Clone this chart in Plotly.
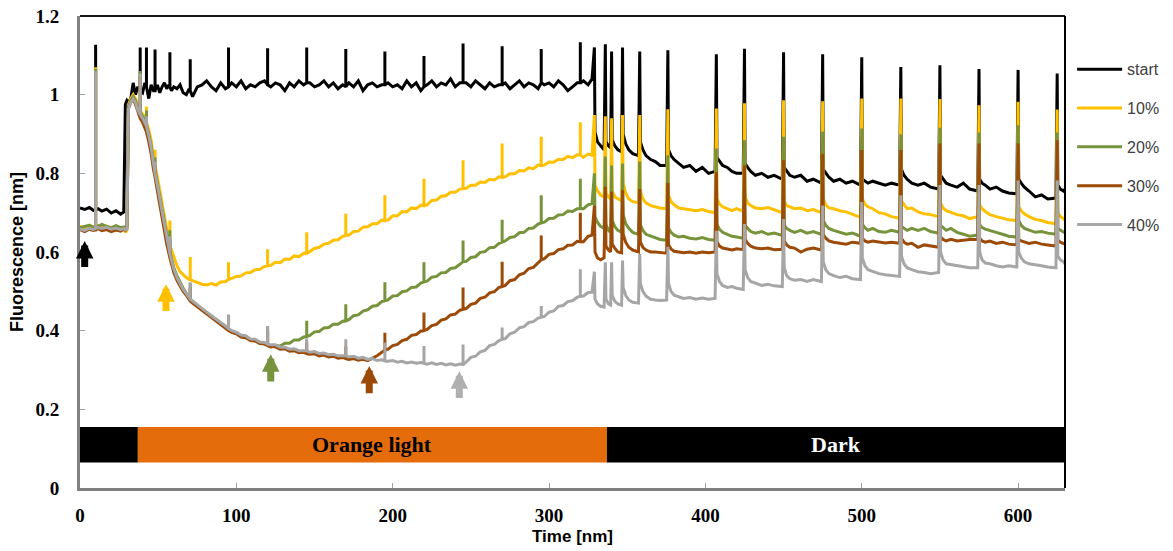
import plotly.graph_objects as go

# ---------------- data ----------------
LIGHT_T = [0, 3, 6, 8.5, 11.5, 14, 17, 20, 23, 26,
           28, 29, 30, 31,
           32.5, 34, 35.5, 37,
           40, 41.5,
           44, 45.5, 47,
           49.5, 51, 52.5, 54, 55.5, 56.8,
           58.5, 60, 62, 64, 66, 68, 69.8,
           72, 75, 78, 81, 84, 87, 90, 93,
           97, 100, 103, 106, 109, 112, 115, 118,
           122, 125, 128, 131, 134, 137, 140, 143,
           147, 150, 153, 156, 159, 162, 165, 168,
           172, 175, 178, 181, 184, 187, 190, 193,
           197, 200, 203, 206, 209, 212, 215, 218,
           222, 225, 228, 231, 234, 237, 240, 243,
           247, 250, 253, 256, 259, 262, 265, 268,
           272, 275, 278, 281, 284, 287, 290, 293,
           297, 300, 303, 306, 309, 312, 315, 318,
           322, 325, 327.5]

DARK_T = [329.4, 331, 333, 335.2,
          336.4, 338, 339.4,
          340.4, 342, 344, 346.4,
          347.4, 349, 351, 353.5, 357.2,
          358.4, 360, 362, 365, 368, 371, 375.2,
          376.4, 378, 380, 383, 386, 390, 394, 398, 402, 406.2,
          407.4, 409, 411, 414, 417, 420, 424.2,
          425.4, 427, 429, 432, 436, 440, 444, 449.2,
          450.4, 452, 454, 457, 461, 465, 469, 474.2,
          475.4, 477, 479, 482, 486, 490, 494, 499.2,
          500.4, 502, 504, 507, 511, 515, 519, 524.2,
          525.4, 527, 529, 532, 536, 540, 544, 549.2,
          550.4, 552, 554, 557, 561, 565, 569, 574.2,
          575.4, 577, 579, 582, 586, 590, 594, 599.2,
          600.4, 602, 604, 607, 611, 615, 619, 624.2,
          625.4, 627, 629, 630]

LIGHT_SPIKE_T = [10, 38.5, 42.5, 48, 57.5, 70.5, 95, 120, 145, 170, 195, 220, 245, 270, 295, 320]
DARK_SPIKE_T = [329, 336, 340, 347, 358, 376, 407, 425, 450, 475, 500, 525, 550, 575, 600, 625]

# --- start ---
start_light = [0.712, 0.708, 0.713, 0.706, 0.71, 0.704, 0.709, 0.699, 0.705, 0.696,
               0.702, 0.975, 0.985, 0.98,
               0.99, 1.03, 1.0, 1.02,
               1.005, 1.03,
               0.99, 1.025, 1.01,
               1.025, 1.005, 1.02, 1.03, 1.015, 1.025,
               1.01, 1.02, 1.015, 1.025, 1.005, 1.0, 1.015,
               0.995, 1.02, 1.025, 1.035, 1.02, 1.01, 1.03, 1.015,
               1.03, 1.02, 1.035, 1.015, 1.025, 1.02, 1.03, 1.035,
               1.02, 1.03, 1.025, 1.01, 1.03, 1.02, 1.035, 1.025,
               1.03, 1.02, 1.025, 1.035, 1.02, 1.03, 1.015, 1.025,
               1.03, 1.02, 1.035, 1.01, 1.025, 1.03, 1.02, 1.025,
               1.03, 1.02, 1.025, 1.015, 1.035, 1.02, 1.03, 1.01,
               1.025, 1.035, 1.02, 1.03, 1.025, 1.04, 1.02, 1.03,
               1.03, 1.02, 1.035, 1.025, 1.015, 1.03, 1.02, 1.025,
               1.03, 1.015, 1.025, 1.035, 1.02, 1.03, 1.025, 1.015,
               1.025, 1.03, 1.02, 1.035, 1.025, 1.01, 1.02, 1.03,
               1.035, 1.025, 1.04]
start_dark = [0.905, 0.88, 0.87, 0.86,
              0.88, 0.87, 0.865,
              0.885, 0.87, 0.86, 0.855,
              0.9, 0.875, 0.86, 0.85, 0.845,
              0.88, 0.86, 0.845, 0.835, 0.83, 0.82, 0.82,
              0.86, 0.845, 0.835, 0.825, 0.815, 0.82, 0.805, 0.815, 0.8, 0.805,
              0.84, 0.83, 0.82, 0.815, 0.805, 0.8, 0.8,
              0.825, 0.815, 0.805, 0.795, 0.8, 0.79, 0.795, 0.785,
              0.815, 0.805, 0.795, 0.79, 0.795, 0.78, 0.785, 0.775,
              0.81, 0.8, 0.79, 0.78, 0.785, 0.775, 0.78, 0.77,
              0.785, 0.78, 0.775, 0.78, 0.775, 0.77, 0.775, 0.77,
              0.81, 0.795, 0.785, 0.775, 0.77, 0.775, 0.765, 0.76,
              0.795, 0.785, 0.775, 0.77, 0.765, 0.775, 0.76, 0.755,
              0.785, 0.775, 0.77, 0.76, 0.765, 0.755, 0.75, 0.748,
              0.785, 0.775, 0.765, 0.755, 0.74, 0.745, 0.735, 0.737,
              0.77, 0.76, 0.755, 0.76]
start_spk_lo = [0.707, 1.01, 1.02, 1.01, 1.02, 1.01, 1.02, 1.025, 1.03, 1.02, 1.025, 1.02, 1.03, 1.025, 1.03, 1.03]
start_spk_hi = [1.127, 1.12, 1.12, 1.115, 1.108, 1.09, 1.12, 1.118, 1.12, 1.116, 1.11, 1.098, 1.13, 1.123, 1.116, 1.133]
start_dark_hi = [1.12, 1.128, 1.11, 1.12, 1.11, 1.113, 1.103, 1.117, 1.108, 1.103, 1.095, 1.07, 1.075, 1.065, 1.063, 1.054]

# --- 10% ---
p10_light = [0.665, 0.662, 0.668, 0.664, 0.667, 0.663, 0.666, 0.661, 0.665, 0.66,
             0.662, 0.65, 0.655, 0.975,
             0.99, 1.0, 0.99, 0.975,
             0.95, 0.945,
             0.91, 0.885, 0.84,
             0.79, 0.755, 0.72, 0.685, 0.655, 0.63,
             0.605, 0.585, 0.565, 0.55, 0.542, 0.535, 0.53,
             0.527, 0.522, 0.518, 0.516, 0.52, 0.516, 0.524, 0.525,
             0.533, 0.538, 0.539, 0.547, 0.548, 0.555, 0.556, 0.563,
             0.566, 0.574, 0.573, 0.582, 0.581, 0.59, 0.588, 0.597,
             0.601, 0.609, 0.612, 0.62, 0.622, 0.63, 0.631, 0.64,
             0.643, 0.652, 0.653, 0.663, 0.664, 0.672, 0.672, 0.681,
             0.681, 0.692, 0.692, 0.703, 0.702, 0.712, 0.71, 0.719,
             0.72, 0.731, 0.732, 0.742, 0.743, 0.752, 0.752, 0.76,
             0.762, 0.77, 0.77, 0.778, 0.777, 0.785, 0.783, 0.791,
             0.791, 0.799, 0.799, 0.807, 0.806, 0.814, 0.812, 0.821,
             0.821, 0.829, 0.828, 0.836, 0.835, 0.843, 0.84, 0.847,
             0.841, 0.849, 0.846]
p10_dark = [0.77, 0.755, 0.745, 0.74,
            0.75, 0.74, 0.735,
            0.755, 0.74, 0.735, 0.73,
            0.775, 0.75, 0.735, 0.728, 0.725,
            0.755, 0.735, 0.725, 0.718, 0.715, 0.712, 0.71,
            0.745, 0.728, 0.72, 0.712, 0.71, 0.707, 0.705, 0.708, 0.703, 0.7,
            0.735, 0.722, 0.715, 0.71, 0.705, 0.71, 0.703,
            0.74, 0.725, 0.718, 0.712, 0.71, 0.713, 0.707, 0.7,
            0.73, 0.718, 0.715, 0.71, 0.712, 0.705, 0.708, 0.7,
            0.735, 0.72, 0.712, 0.71, 0.705, 0.702, 0.695, 0.688,
            0.735, 0.722, 0.715, 0.71, 0.7, 0.697, 0.69, 0.686,
            0.73, 0.72, 0.71, 0.712, 0.702, 0.697, 0.695, 0.69,
            0.725, 0.712, 0.705, 0.7, 0.695, 0.692, 0.685, 0.69,
            0.72, 0.71, 0.703, 0.695, 0.69, 0.686, 0.682, 0.68,
            0.715, 0.705, 0.697, 0.69, 0.683, 0.68, 0.675, 0.672,
            0.7, 0.69, 0.685, 0.68]
p10_spk_lo = [0.665, 0.96, 0.93, 0.82, 0.615, 0.53, 0.53, 0.565, 0.597, 0.642, 0.68, 0.718, 0.761, 0.79, 0.82, 0.846]
p10_spk_hi = [1.07, 1.05, 0.97, 0.86, 0.68, 0.587, 0.574, 0.607, 0.65, 0.697, 0.744, 0.786, 0.833, 0.876, 0.893, 0.93]
p10_dark_hi = [0.948, 0.945, 0.94, 0.948, 0.948, 0.963, 0.965, 0.978, 0.986, 0.983, 0.99, 0.99, 0.989, 0.973, 0.982, 0.962]

# --- 20% ---
p20_light = [0.662, 0.666, 0.668, 0.663, 0.665, 0.67, 0.665, 0.662, 0.667, 0.662,
             0.664, 0.66, 0.665, 0.97,
             0.985, 0.995, 0.985, 0.965,
             0.945, 0.935,
             0.9, 0.87, 0.83,
             0.775, 0.74, 0.705, 0.67, 0.64, 0.615,
             0.585, 0.56, 0.54, 0.522, 0.508, 0.495, 0.485,
             0.475, 0.464, 0.455, 0.446, 0.437, 0.428, 0.418, 0.41,
             0.398, 0.394, 0.387, 0.385, 0.377, 0.376, 0.369, 0.368,
             0.358, 0.362, 0.361, 0.368, 0.368, 0.376, 0.376, 0.384,
             0.388, 0.397, 0.398, 0.407, 0.408, 0.416, 0.416, 0.424,
             0.428, 0.438, 0.44, 0.45, 0.453, 0.462, 0.464, 0.474,
             0.478, 0.488, 0.489, 0.499, 0.501, 0.51, 0.511, 0.521,
             0.526, 0.536, 0.538, 0.547, 0.548, 0.558, 0.56, 0.57,
             0.576, 0.586, 0.588, 0.599, 0.601, 0.611, 0.612, 0.622,
             0.628, 0.637, 0.639, 0.649, 0.65, 0.66, 0.661, 0.671,
             0.676, 0.685, 0.686, 0.694, 0.695, 0.704, 0.703, 0.71,
             0.71, 0.72, 0.723]
p20_dark = [0.69, 0.675, 0.665, 0.66,
            0.67, 0.655, 0.65,
            0.68, 0.665, 0.655, 0.65,
            0.695, 0.672, 0.66, 0.65, 0.645,
            0.67, 0.655, 0.645, 0.64, 0.635, 0.632, 0.63,
            0.66, 0.65, 0.643, 0.638, 0.64, 0.635, 0.633, 0.637, 0.632, 0.63,
            0.67, 0.658, 0.65, 0.645, 0.64, 0.638, 0.635,
            0.668, 0.66, 0.652, 0.648, 0.652, 0.645, 0.648, 0.642,
            0.668, 0.66, 0.655, 0.65, 0.655, 0.648, 0.652, 0.645,
            0.68, 0.668, 0.66, 0.655, 0.65, 0.645, 0.648, 0.64,
            0.67, 0.662, 0.655, 0.66, 0.652, 0.65, 0.655, 0.65,
            0.665, 0.66, 0.655, 0.66, 0.655, 0.66, 0.652, 0.648,
            0.668, 0.662, 0.655, 0.66, 0.65, 0.645, 0.64, 0.643,
            0.67, 0.662, 0.658, 0.655, 0.65, 0.645, 0.64, 0.638,
            0.68, 0.668, 0.66, 0.655, 0.65, 0.652, 0.648, 0.645,
            0.66, 0.655, 0.65, 0.648]
p20_spk_lo = [0.665, 0.955, 0.925, 0.81, 0.6, 0.48, 0.405, 0.363, 0.385, 0.425, 0.476, 0.524, 0.575, 0.625, 0.674, 0.71]
p20_spk_hi = [1.065, 1.06, 0.96, 0.84, 0.655, 0.52, 0.44, 0.41, 0.425, 0.467, 0.523, 0.574, 0.629, 0.682, 0.744, 0.786]
p20_dark_hi = [0.8, 0.843, 0.82, 0.825, 0.83, 0.846, 0.863, 0.884, 0.893, 0.906, 0.914, 0.899, 0.916, 0.904, 0.922, 0.904]

# --- 30% ---
p30_light = [0.657, 0.652, 0.658, 0.655, 0.66, 0.654, 0.657, 0.652, 0.656, 0.653,
             0.658, 0.655, 0.66, 0.965,
             0.98, 0.99, 0.975, 0.955,
             0.93, 0.915,
             0.88, 0.85, 0.81,
             0.755, 0.72, 0.685, 0.65, 0.62, 0.597,
             0.57, 0.548, 0.528, 0.512, 0.5, 0.49, 0.48,
             0.47, 0.46, 0.452, 0.443, 0.434, 0.425, 0.415, 0.407,
             0.396, 0.392, 0.384, 0.382, 0.375, 0.374, 0.367, 0.366,
             0.36, 0.359, 0.353, 0.354, 0.348, 0.349, 0.344, 0.345,
             0.34, 0.341, 0.336, 0.338, 0.333, 0.335, 0.33, 0.332,
             0.327, 0.329, 0.325, 0.327, 0.324, 0.33, 0.336, 0.345,
             0.353, 0.362, 0.365, 0.375, 0.378, 0.388, 0.39, 0.399,
             0.403, 0.413, 0.416, 0.427, 0.43, 0.44, 0.442, 0.452,
             0.456, 0.467, 0.47, 0.482, 0.485, 0.496, 0.499, 0.51,
             0.515, 0.527, 0.53, 0.542, 0.546, 0.558, 0.561, 0.574,
             0.583, 0.594, 0.596, 0.606, 0.608, 0.617, 0.618, 0.627,
             0.626, 0.64, 0.643]
p30_dark = [0.6, 0.585, 0.58, 0.585,
            0.615, 0.605, 0.6,
            0.62, 0.61, 0.6, 0.598,
            0.645, 0.625, 0.612, 0.605, 0.6,
            0.625, 0.612, 0.605, 0.6, 0.6, 0.598, 0.597,
            0.618, 0.608, 0.602, 0.6, 0.598, 0.6, 0.597, 0.6, 0.598, 0.6,
            0.625, 0.615, 0.61, 0.607, 0.605, 0.608, 0.606,
            0.632, 0.622, 0.615, 0.61, 0.608, 0.61, 0.606, 0.607,
            0.628, 0.618, 0.612, 0.61, 0.6, 0.607, 0.61, 0.605,
            0.645, 0.635, 0.628, 0.625, 0.622, 0.62, 0.625, 0.622,
            0.635, 0.628, 0.625, 0.628, 0.625, 0.623, 0.625, 0.622,
            0.635, 0.625, 0.62, 0.622, 0.612, 0.618, 0.615, 0.612,
            0.638, 0.632, 0.628, 0.632, 0.628, 0.63, 0.632, 0.632,
            0.635, 0.628, 0.625, 0.628, 0.622, 0.625, 0.62, 0.618,
            0.632, 0.628, 0.625, 0.622, 0.625, 0.62, 0.618, 0.615,
            0.63, 0.625, 0.622, 0.62]
p30_spk_lo = [0.656, 0.94, 0.905, 0.79, 0.585, 0.475, 0.4, 0.362, 0.342, 0.329, 0.35, 0.4, 0.454, 0.512, 0.58, 0.626]
p30_spk_hi = [1.06, 1.045, 0.94, 0.82, 0.63, 0.51, 0.43, 0.4, 0.37, 0.36, 0.395, 0.446, 0.51, 0.575, 0.642, 0.7]
p30_dark_hi = [0.718, 0.766, 0.753, 0.757, 0.76, 0.776, 0.804, 0.82, 0.833, 0.85, 0.859, 0.859, 0.876, 0.876, 0.876, 0.884]

# --- 40% ---
p40_light = [0.658, 0.655, 0.66, 0.657, 0.662, 0.66, 0.663, 0.658, 0.661, 0.657,
             0.66, 0.656, 0.658, 0.965,
             0.98, 0.99, 0.98, 0.96,
             0.94, 0.93,
             0.895, 0.865, 0.825,
             0.77, 0.735, 0.7, 0.665, 0.635, 0.61,
             0.58, 0.557, 0.535, 0.518, 0.505, 0.494, 0.485,
             0.475, 0.465, 0.456, 0.447, 0.438, 0.43, 0.42, 0.412,
             0.4, 0.396, 0.389, 0.387, 0.379, 0.378, 0.371, 0.37,
             0.364, 0.364, 0.358, 0.358, 0.353, 0.354, 0.349, 0.35,
             0.345, 0.347, 0.342, 0.343, 0.339, 0.34, 0.336, 0.337,
             0.333, 0.335, 0.33, 0.332, 0.327, 0.329, 0.324, 0.326,
             0.322, 0.324, 0.32, 0.322, 0.318, 0.32, 0.317, 0.319,
             0.315, 0.318, 0.314, 0.317, 0.313, 0.316, 0.312, 0.315,
             0.32, 0.332, 0.335, 0.346, 0.35, 0.362, 0.365, 0.375,
             0.38, 0.392, 0.396, 0.407, 0.41, 0.421, 0.423, 0.432,
             0.436, 0.447, 0.45, 0.462, 0.464, 0.474, 0.476, 0.485,
             0.488, 0.497, 0.498]
p40_dark = [0.48, 0.468, 0.462, 0.46,
            0.48, 0.468, 0.465,
            0.49, 0.475, 0.468, 0.465,
            0.51, 0.49, 0.478, 0.472, 0.47,
            0.52, 0.5, 0.488, 0.48, 0.478, 0.477, 0.478,
            0.52, 0.5, 0.49, 0.485, 0.482, 0.484, 0.48, 0.483, 0.48, 0.482,
            0.545, 0.525, 0.515, 0.51, 0.512, 0.508, 0.505,
            0.555, 0.535, 0.525, 0.52, 0.515, 0.518, 0.514, 0.512,
            0.56, 0.54, 0.532, 0.528, 0.53, 0.525, 0.53, 0.525,
            0.575, 0.555, 0.545, 0.54, 0.535, 0.538, 0.532, 0.53,
            0.585, 0.565, 0.555, 0.55, 0.545, 0.542, 0.54, 0.538,
            0.59, 0.57, 0.56, 0.555, 0.55, 0.548, 0.545, 0.548,
            0.6, 0.58, 0.57, 0.568, 0.565, 0.562, 0.56, 0.56,
            0.6, 0.58, 0.572, 0.57, 0.565, 0.562, 0.565, 0.562,
            0.6, 0.585, 0.575, 0.57, 0.568, 0.565, 0.562, 0.56,
            0.59, 0.58, 0.575, 0.57]
p40_spk_lo = [0.66, 0.95, 0.92, 0.8, 0.595, 0.48, 0.405, 0.366, 0.349, 0.336, 0.323, 0.317, 0.314, 0.378, 0.434, 0.487]
p40_spk_hi = [1.06, 1.054, 0.945, 0.83, 0.64, 0.523, 0.441, 0.412, 0.38, 0.378, 0.37, 0.361, 0.365, 0.408, 0.463, 0.556]
p40_dark_hi = [0.55, 0.574, 0.574, 0.578, 0.595, 0.613, 0.654, 0.671, 0.684, 0.718, 0.727, 0.744, 0.77, 0.77, 0.782, 0.782]

SERIES_NAMES = ["start", "10%", "20%", "30%", "40%"]
SERIES_COLORS = ["#000000", "#FFC000", "#77933C", "#9C4A08", "#A6A6A6"]

# light phases bar
PHASE_START = [0, 37, 337]
PHASE_END = [37, 337, 630]
PHASE_COLOR = ["#000000", "#E46C0A", "#000000"]
PHASE_LABEL = ["", "Orange light", "Dark"]
PHASE_TEXT_COLOR = ["#FFFFFF", "#000000", "#FFFFFF"]
BAR_LOW, BAR_HIGH = 0.065, 0.155

# arrows marking light-intensity changes
ARROW_T = [3, 55, 122, 185, 242.6]
ARROW_TIP = [0.628, 0.518, 0.34, 0.31, 0.297]
ARROW_BASE = [0.558, 0.446, 0.267, 0.237, 0.225]
ARROW_COLORS = ["#000000", "#FFC000", "#77933C", "#9C4A08", "#B0B0B0"]

# ---------------- build ----------------
def build(light, dark, lo, hi, dark_hi):
    pts = list(zip(LIGHT_T, light)) + list(zip(DARK_T, dark))
    for t, l, h in zip(LIGHT_SPIKE_T, lo, hi):
        pts += [(t, l), (t, h), (t, l)]
    for t, h in zip(DARK_SPIKE_T, dark_hi):
        pts.append((t, h))
    pts.sort(key=lambda p: p[0])
    return [p[0] for p in pts], [p[1] for p in pts]

series = [
    (start_light, start_dark, start_spk_lo, start_spk_hi, start_dark_hi),
    (p10_light, p10_dark, p10_spk_lo, p10_spk_hi, p10_dark_hi),
    (p20_light, p20_dark, p20_spk_lo, p20_spk_hi, p20_dark_hi),
    (p30_light, p30_dark, p30_spk_lo, p30_spk_hi, p30_dark_hi),
    (p40_light, p40_dark, p40_spk_lo, p40_spk_hi, p40_dark_hi),
]

fig = go.Figure()
for name, color, s in zip(SERIES_NAMES, SERIES_COLORS, series):
    x, y = build(*s)
    fig.add_trace(go.Scatter(x=x, y=y, mode="lines", name=name, legendgroup=name,
                             line=dict(color=color, width=3), hoverinfo="skip"))

shapes = []
annotations = []
for x0, x1, c, lab, tc in zip(PHASE_START, PHASE_END, PHASE_COLOR, PHASE_LABEL, PHASE_TEXT_COLOR):
    shapes.append(dict(type="rect", xref="x", yref="y", x0=x0, x1=x1, y0=BAR_LOW, y1=BAR_HIGH,
                       fillcolor=c, line=dict(width=0), layer="below"))
    if lab:
        annotations.append(dict(x=(x0 + x1) / 2, y=(BAR_LOW + BAR_HIGH) / 2, xref="x", yref="y",
                                text=lab, showarrow=False,
                                font=dict(family="Liberation Serif", size=22, color=tc, weight="bold")))

for t, tip, base, c in zip(ARROW_T, ARROW_TIP, ARROW_BASE, ARROW_COLORS):
    annotations.append(dict(x=t, y=tip, ax=t, ay=base, xref="x", yref="y", axref="x", ayref="y",
                            text="", showarrow=True, arrowhead=2, arrowsize=0.5, arrowwidth=7,
                            arrowcolor=c))

# frame: top and right borders
shapes.append(dict(type="line", xref="paper", yref="paper", x0=0, x1=1, y0=1, y1=1,
                   line=dict(color="#1a1a1a", width=2)))
shapes.append(dict(type="line", xref="paper", yref="paper", x0=1, x1=1, y0=0, y1=1,
                   line=dict(color="#000000", width=2)))

fig.update_layout(
    width=1173, height=551,
    margin=dict(l=80, r=108, t=16, b=63, autoexpand=False),
    plot_bgcolor="white", paper_bgcolor="white",
    shapes=shapes, annotations=annotations,
    showlegend=True,
    legend=dict(xref="container", yref="container", x=0.914, y=0.905,
                xanchor="left", yanchor="top",
                font=dict(family="Liberation Sans", size=16, color="#404040"),
                tracegroupgap=15, itemwidth=45, bgcolor="rgba(0,0,0,0)"),
    xaxis=dict(range=[0, 630], tick0=0, dtick=100, showgrid=False, zeroline=False,
               showline=True, linecolor="#808080", linewidth=3, automargin=False,
               ticks="inside", ticklen=5, tickcolor="#A0A0A0", tickwidth=1,
               ticklabelstandoff=8,
               tickfont=dict(family="Liberation Serif", size=19, color="#000000", weight="bold"),
               title=dict(text="Time [nm]", standoff=6,
                          font=dict(family="Liberation Sans", size=17, color="#000000", weight="bold"))),
    yaxis=dict(range=[0, 1.2], tick0=0, dtick=0.2, showgrid=False, zeroline=False,
               showline=True, linecolor="#808080", linewidth=3, automargin=False,
               ticks="inside", ticklen=5, tickcolor="#A0A0A0", tickwidth=1,
               ticklabelstandoff=14,
               tickfont=dict(family="Liberation Serif", size=19, color="#000000", weight="bold"),
               title=dict(text="Fluorescence [nm]", standoff=8,
                          font=dict(family="Liberation Sans", size=18, color="#000000", weight="bold"))),
)

fig.write_html("out.html")
